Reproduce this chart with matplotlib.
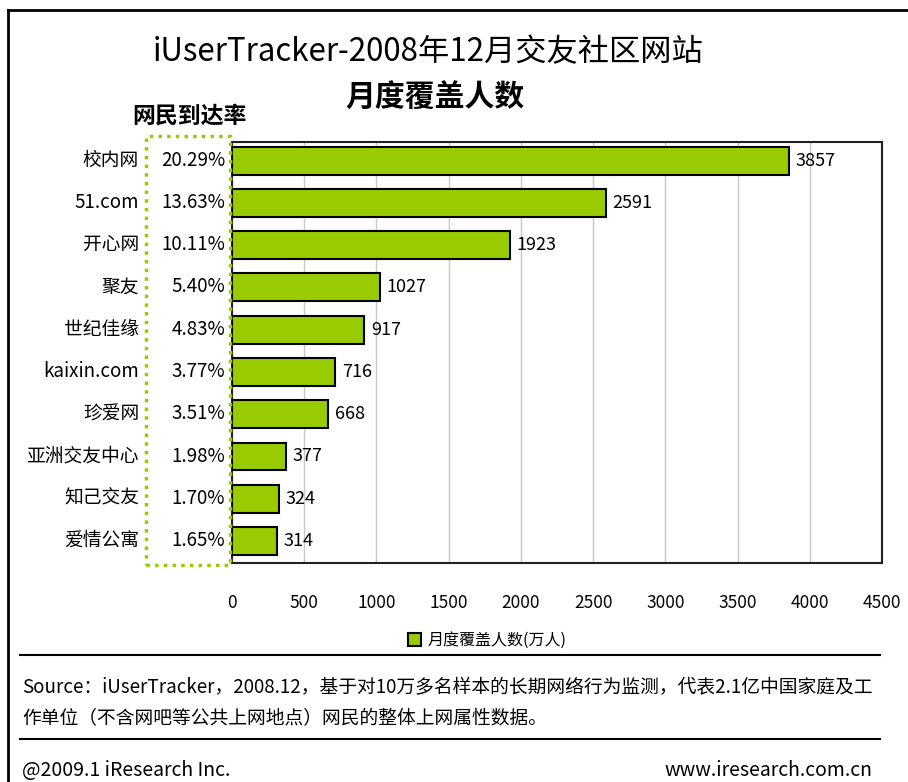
import matplotlib.pyplot as plt
from matplotlib.patches import Rectangle
from matplotlib.lines import Line2D

plt.rcParams['font.family'] = ['Noto Sans CJK SC', 'DejaVu Sans']

sites = ["校内网", "51.com", "开心网", "聚友", "世纪佳缘", "kaixin.com",
         "珍爱网", "亚洲交友中心", "知己交友", "爱情公寓"]
reach = ["20.29%", "13.63%", "10.11%", "5.40%", "4.83%", "3.77%",
         "3.51%", "1.98%", "1.70%", "1.65%"]
users = [3857, 2591, 1923, 1027, 917, 716, 668, 377, 324, 314]
xticks = [0, 500, 1000, 1500, 2000, 2500, 3000, 3500, 4000, 4500]

W, H = 908, 782
fig = plt.figure(figsize=(W / 100, H / 100), dpi=100)

def fx(px):
    return px / W

def fy(py):
    return 1 - py / H

# plot area: x 232..882, y 142..563
ax = fig.add_axes([fx(232), fy(563), fx(882) - fx(232), fy(142) - fy(563)])
ypos = list(range(len(sites)))
ax.barh(ypos, users, height=0.66, color="#99CC00", edgecolor="black",
        linewidth=1.5, zorder=3, label="月度覆盖人数(万人)")
ax.set_xlim(0, 4500)
ax.set_ylim(9.52, -0.44)
ax.set_xticks(xticks)
ax.set_xticklabels([str(t) for t in xticks], fontsize=12.5)
ax.xaxis.grid(True, color="#c8c8c8", linewidth=1, zorder=0)
ax.tick_params(axis="x", length=0, pad=22)
ax.set_yticks([])
for s in ax.spines.values():
    s.set_linewidth(1.5)
    s.set_color("#222222")

for i, v in enumerate(users):
    ax.text(v + 45, i, str(v), va="center", ha="left", fontsize=13)

# category names and reach percentages
for i, (name, r) in enumerate(zip(sites, reach)):
    ypix = 160 + 42.3 * i
    fig.text(fx(139), fy(ypix), name, ha="right", va="center", fontsize=13.5)
    fig.text(fx(225), fy(ypix), r, ha="right", va="center", fontsize=13.5)

# dotted green box around reach column
fig.patches.append(Rectangle((fx(146), fy(565)), fx(230) - fx(146), fy(136) - fy(565),
                             transform=fig.transFigure, fill=False,
                             edgecolor="#99CC00", linewidth=2.5,
                             linestyle=(0, (1, 1.5))))

fig.text(fx(132), fy(116), "网民到达率", ha="left", va="center",
         fontsize=16.5, fontweight="bold")

# titles
fig.text(fx(428), fy(52), "iUserTracker-2008年12月交友社区网站", ha="center",
         va="center", fontsize=22.5)
fig.text(fx(435), fy(97), "月度覆盖人数", ha="center", va="center",
         fontsize=21.5, fontweight="bold")

# legend
ax.legend(loc="upper center", bbox_to_anchor=(0.5 - fx(70) / (fx(882) - fx(232)), -0.13),
          frameon=False, fontsize=11.5, handlelength=0.8, handleheight=0.8,
          handletextpad=0.4)

# frame lines
fig.add_artist(Line2D([fx(8), fx(8)], [fy(10), 0], color="black", linewidth=2))
fig.add_artist(Line2D([fx(8), 1], [fy(10), fy(10)], color="black", linewidth=2))
fig.add_artist(Line2D([fx(20), fx(880)], [fy(655), fy(655)], color="black", linewidth=1.5))
fig.add_artist(Line2D([fx(20), fx(880)], [fy(739), fy(739)], color="black", linewidth=1.5))

fig.text(fx(22), fy(688), "Source：iUserTracker，2008.12，基于对10万多名样本的长期网络行为监测，代表2.1亿中国家庭及工",
         ha="left", va="center", fontsize=13.5)
fig.text(fx(22), fy(719), "作单位（不含网吧等公共上网地点）网民的整体上网属性数据。",
         ha="left", va="center", fontsize=13.5)
fig.text(fx(22), fy(770), "@2009.1 iResearch Inc.", ha="left", va="center", fontsize=14)
fig.text(fx(872), fy(770), "www.iresearch.com.cn", ha="right", va="center", fontsize=14)

fig.savefig("out.png", dpi=100)
